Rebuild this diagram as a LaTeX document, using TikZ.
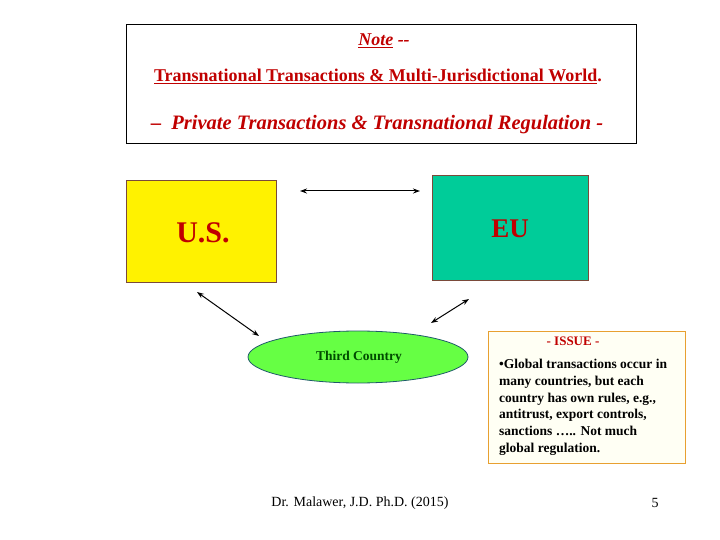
\documentclass[tikz,border=0pt]{standalone}
\usepackage{fontspec}
\setmainfont{Liberation Serif}
\usetikzlibrary{shapes.geometric,arrows.meta}
\definecolor{eugreen}{HTML}{00CC99}
\definecolor{tcgreen}{HTML}{66FF44}
\definecolor{issueor}{HTML}{E8A030}
\definecolor{notered}{HTML}{C00000}
\definecolor{boxedge}{HTML}{7A4A3A}
\definecolor{ellipseedge}{HTML}{1F5A6A}
\definecolor{cream}{HTML}{FFFFF4}
\begin{document}
\begin{tikzpicture}[x=1pt,y=-1pt,
  arr/.style={{Stealth[length=7pt,width=5pt]}-{Stealth[length=7pt,width=5pt]},line width=1pt},
  box/.style={draw=boxedge,line width=0.6pt}]
\useasboundingbox (0,0) rectangle (720,540);
\node[draw,line width=0.6pt,minimum width=510pt,minimum height=119pt,anchor=north west,inner sep=0] (note) at (126,24) {};
\node[text=notered] (n1) at (384,41) {\fontsize{18}{20}\selectfont\bfseries\itshape\underline{Note} -{}-};
\node[text=notered] (n2) at (378,76) {\fontsize{18}{20}\selectfont\bfseries\underline{Transnational Transactions \& Multi-Jurisdictional World}.};
\node[text=notered] (n3) at (377,125) {\fontsize{20.5}{22}\selectfont\bfseries --\enspace\itshape Private Transactions \& Transnational Regulation -};
\node[box,fill=yellow,minimum width=150pt,minimum height=102pt,anchor=north west,inner sep=0] (us) at (126,180) {};
\node[text=notered] (ust) at (203,233) {\fontsize{30}{32}\selectfont\bfseries U.S.};
\node[box,fill=eugreen,minimum width=156pt,minimum height=105pt,anchor=north west,inner sep=0] (eu) at (432,175) {};
\node[text=notered] (eut) at (510,229) {\fontsize{27}{30}\selectfont\bfseries EU};
\coordinate (a1) at (300,191); \coordinate (a2) at (420,191);
\draw[arr] (a1) -- (a2);
\node[ellipse,draw=ellipseedge,line width=0.8pt,fill=tcgreen,minimum width=220pt,minimum height=52pt,inner sep=0] (tc) at (358,357) {};
\node[text=black!70!green] (tct) at (359,357) {\fontsize{13.5}{15}\selectfont\bfseries Third Country};
\coordinate (b1) at (197,292); \coordinate (b2) at (259,336);
\draw[arr] (b1) -- (b2);
\coordinate (c1) at (469,299); \coordinate (c2) at (431,323);
\draw[arr] (c1) -- (c2);
\node[draw=issueor,fill=cream,line width=0.8pt,minimum width=197pt,minimum height=132pt,anchor=north west,inner sep=0] (iss) at (488,331) {};
\node[text=notered] (isst) at (573,341) {\fontsize{13}{15}\selectfont\bfseries - ISSUE -};
\node[anchor=north west,inner sep=0,align=left,font=\fontsize{13.5}{16.8}\selectfont\bfseries] (issb) at (499,359) {•Global transactions occur in\\ many countries, but each\\ country has own rules, e.g.,\\ antitrust, export controls,\\ sanctions ….. Not much\\ global regulation.};
\node (foot) at (360,503) {\fontsize{14}{16}\selectfont Dr. Malawer, J.D. Ph.D. (2015)};
\node (pg) at (655,503) {\fontsize{14}{16}\selectfont 5};
\end{tikzpicture}
\end{document}
